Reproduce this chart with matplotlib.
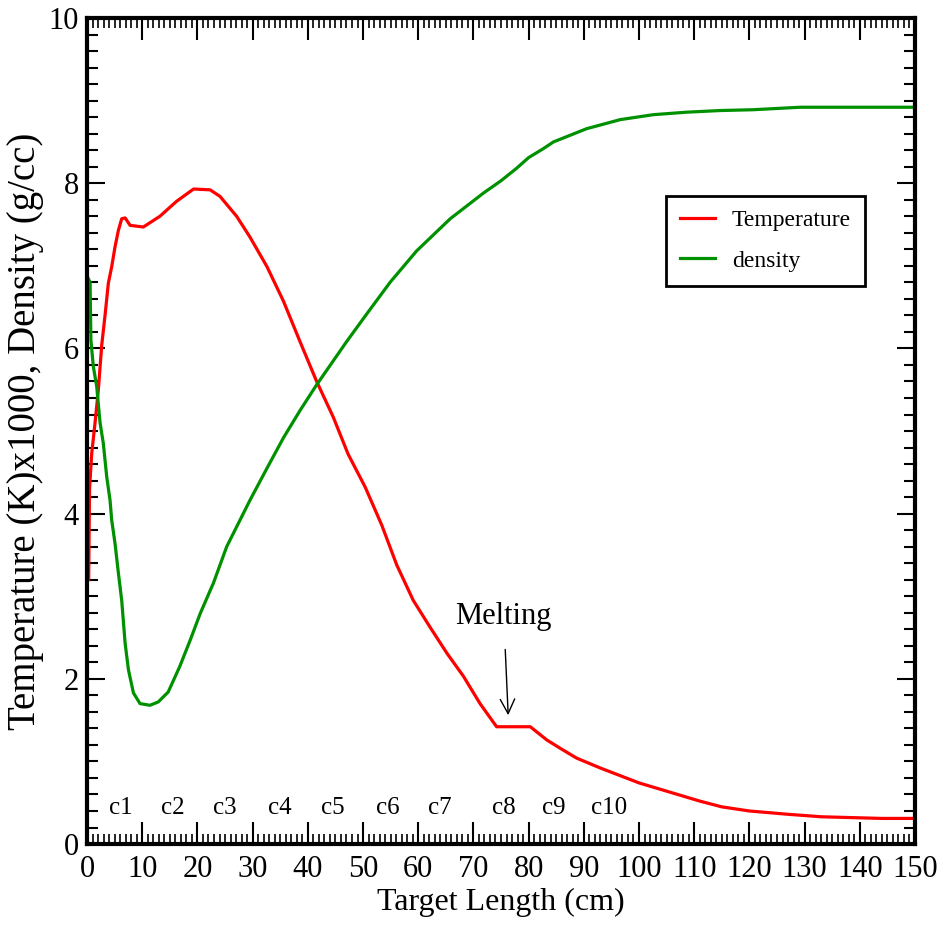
import matplotlib
matplotlib.use("Agg")
import matplotlib.pyplot as plt
from matplotlib.ticker import MultipleLocator

plt.rcParams['font.family'] = ['Liberation Serif', 'DejaVu Serif']

# Temperature (K x 1000) along the target
temp_x = [0.3, 0.45, 0.85, 1.45, 2.05, 2.66, 3.26, 3.86, 4.47, 5.07, 5.68, 6.28, 6.9, 7.8,
          10.2, 13.2, 16.2, 19.3, 22.3, 24.1, 27.1, 29.5, 32.6, 35.6, 38.6, 41.6, 44.6,
          47.3, 50.4, 53.4, 56.1, 59.1, 62.1, 65.2, 68.2, 71.2, 74.2, 80.3, 83.3, 85.7,
          88.7, 93, 100, 105, 111, 115, 120, 127, 133, 144, 150]
temp_y = [3.2, 4.3, 4.73, 5.10, 5.50, 6.04, 6.40, 6.79, 6.99, 7.23, 7.43, 7.57, 7.58, 7.49,
          7.47, 7.60, 7.78, 7.93, 7.92, 7.84, 7.60, 7.35, 6.99, 6.57, 6.08, 5.60, 5.17,
          4.72, 4.32, 3.86, 3.38, 2.95, 2.63, 2.31, 2.03, 1.70, 1.42, 1.42, 1.26, 1.16,
          1.04, 0.92, 0.74, 0.64, 0.52, 0.45, 0.40, 0.36, 0.33, 0.31, 0.31]

# Density (g/cc) along the target
dens_x = [0.2, 0.55, 0.7, 1.14, 1.75, 2.36, 2.95, 3.56, 4.17, 4.47, 5.07, 5.68, 6.28, 6.9,
          7.5, 8.4, 9.6, 11.4, 12.9, 14.7, 16.8, 18.7, 20.5, 22.9, 25.3, 27.7, 29.5, 32.6,
          35.6, 38.6, 41.6, 47.0, 50.7, 54.9, 59.7, 65.8, 71.8, 75.0, 77.8, 80.0, 82.7, 84.5,
          90.5, 96.6, 102.6, 108.6, 114.7, 120.7, 129.2, 150]
dens_y = [6.85, 6.80, 6.10, 5.78, 5.54, 5.10, 4.85, 4.45, 4.16, 3.92, 3.64, 3.28, 2.95, 2.43,
          2.11, 1.83, 1.70, 1.68, 1.72, 1.84, 2.15, 2.47, 2.79, 3.16, 3.60, 3.92, 4.16, 4.55,
          4.92, 5.25, 5.56, 6.08, 6.42, 6.80, 7.18, 7.57, 7.88, 8.03, 8.18, 8.31, 8.42, 8.50,
          8.66, 8.77, 8.83, 8.86, 8.88, 8.89, 8.92, 8.92]

# Section labels along the bottom
section_labels = ['c1', 'c2', 'c3', 'c4', 'c5', 'c6', 'c7', 'c8', 'c9', 'c10']
section_x = [6.2, 15.5, 25, 35, 44.6, 54.5, 64, 75.5, 84.5, 94.5]

fig = plt.figure(figsize=(9.43, 9.44), dpi=100)
ax = fig.add_axes([0.0923, 0.1059, 0.878, 0.875])

ax.plot(temp_x, temp_y, color='#ff0000', lw=2.3, label='Temperature')
ax.plot(dens_x, dens_y, color='#009100', lw=2.3, label='density')

for lab, xs in zip(section_labels, section_x):
    ax.text(xs, 0.44, lab, fontsize=18, ha='center', va='center')

ax.annotate('Melting', xy=(76.3, 1.56), xytext=(75.5, 2.75), fontsize=22,
            ha='center', va='center',
            arrowprops=dict(arrowstyle='->', color='black', lw=1,
                            shrinkA=11, shrinkB=0, mutation_scale=26))

ax.set_xlim(0, 150)
ax.set_ylim(0, 10)
ax.xaxis.set_major_locator(MultipleLocator(10))
ax.xaxis.set_minor_locator(MultipleLocator(1))
ax.yaxis.set_major_locator(MultipleLocator(2))
ax.yaxis.set_minor_locator(MultipleLocator(0.2))

ax.tick_params(axis='x', which='major', direction='in', length=16, width=1.5,
               top=True, labelsize=22, pad=8)
ax.tick_params(axis='x', which='minor', direction='in', length=7, width=1.2, top=True)
ax.tick_params(axis='y', which='major', direction='in', length=13, width=1.5,
               right=True, labelsize=22, pad=6)
ax.tick_params(axis='y', which='minor', direction='in', length=8, width=1.5, right=True)

for sp in ax.spines.values():
    sp.set_linewidth(3)

ax.set_xlabel('Target Length (cm)', fontsize=23, labelpad=3)
ax.set_ylabel('Temperature (K)x1000, Density (g/cc)', fontsize=28)
ax.yaxis.set_label_coords(-0.052, 0.5)

leg = ax.legend(loc='upper left', bbox_to_anchor=(0.699, 0.785), borderaxespad=0,
                fontsize=17, fancybox=False, framealpha=1, edgecolor='black',
                handlelength=1.5, handletextpad=0.7, labelspacing=0.8,
                borderpad=0.6)
leg.get_frame().set_linewidth(2)

fig.savefig('out.png', dpi=100)
